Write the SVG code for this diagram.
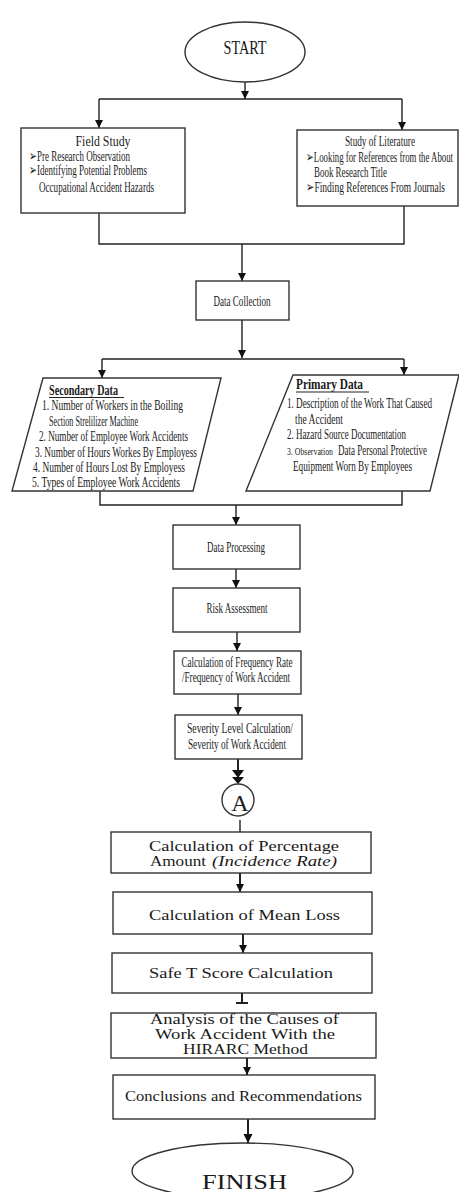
<svg xmlns="http://www.w3.org/2000/svg" width="459" height="1192" viewBox="0 0 459 1192">
<style>
.s{fill:#fff;stroke:#333;stroke-width:1.4}
.c{fill:none;stroke:#222;stroke-width:1.4}
.t{font-family:"Liberation Serif",serif;font-size:14.5px;fill:#1a1a1a}
.b{font-family:"Liberation Serif",serif;font-size:15px;fill:#1a1a1a}
.m{text-anchor:middle}
</style>
<defs>
<marker id="ah" viewBox="0 0 10 10" refX="10" refY="5" markerWidth="8" markerHeight="8" markerUnits="userSpaceOnUse" orient="auto">
<path d="M0,0 L10,5 L0,10 Z" fill="#111"/>
</marker>
<marker id="ah2" viewBox="0 0 10 10" refX="10" refY="5" markerWidth="9" markerHeight="11" markerUnits="userSpaceOnUse" orient="auto">
<path d="M0,0 L10,5 L0,10 Z" fill="#111"/>
</marker>
</defs>
<g id="connectors">
<path class="c" d="M245,82 V99" marker-end="url(#ah)"/>
<path class="c" d="M99,99 H402"/>
<path class="c" d="M99,99 V128" marker-end="url(#ah)"/>
<path class="c" d="M402,99 V130" marker-end="url(#ah)"/>
<path class="c" d="M99,213 V244 H404 V206"/>
<path class="c" d="M242,244 V281" marker-end="url(#ah)"/>
<path class="c" d="M242,320 V358" marker-end="url(#ah)"/>
<path class="c" d="M102,359 H404"/>
<path class="c" d="M102,359 V378" marker-end="url(#ah)"/>
<path class="c" d="M404,359 V375" marker-end="url(#ah)"/>
<path class="c" d="M100,491 V505 H402 V488"/>
<path class="c" d="M236,505 V525" marker-end="url(#ah)"/>
<path class="c" d="M236,569 V588" marker-end="url(#ah)"/>
<path class="c" d="M237,632 V651" marker-end="url(#ah)"/>
<path class="c" d="M238,694 V715" marker-end="url(#ah)"/>
<path class="c" d="M238,759 V770" style="stroke-width:2"/>
<path d="M232,770 L244,770 L238,778 Z M232,777 L244,777 L238,784 Z" fill="#111"/>
<path class="c" d="M240,820 V832"/>
<path class="c" d="M240,873 V892" marker-end="url(#ah)" style="stroke-width:2"/>
<path class="c" d="M243,934 V953" marker-end="url(#ah)" style="stroke-width:2"/>
<path class="c" d="M242,993 V1003 M236,1003 H248" style="stroke-width:2"/>
<path class="c" d="M247,1058 V1075" marker-end="url(#ah)" style="stroke-width:2"/>
<path class="c" d="M248,1119 V1143" marker-end="url(#ah2)" style="stroke-width:2"/>
</g>
<g id="start">
<ellipse class="s" cx="245" cy="52" rx="60" ry="30"/>
<text class="t m" x="245" y="54" style="font-size:19px" textLength="43" lengthAdjust="spacingAndGlyphs">START</text>
</g>
<g id="field-study">
<rect class="s" x="21" y="128" width="164" height="85"/>
<text class="t m" x="103" y="146" textLength="55" lengthAdjust="spacingAndGlyphs">Field Study</text>
<text class="t" x="29" y="161" textLength="101" lengthAdjust="spacingAndGlyphs">➢Pre Research Observation</text>
<text class="t" x="29" y="175" textLength="118" lengthAdjust="spacingAndGlyphs">➢Identifying Potential Problems</text>
<text class="t" x="39" y="192" textLength="115" lengthAdjust="spacingAndGlyphs">Occupational Accident Hazards</text>
</g>
<g id="literature">
<rect class="s" x="297" y="130" width="161" height="76"/>
<text class="t m" x="380" y="146" textLength="70" lengthAdjust="spacingAndGlyphs">Study of Literature</text>
<text class="t" x="306" y="162" textLength="147" lengthAdjust="spacingAndGlyphs">➢Looking for References from the About</text>
<text class="t" x="314" y="177" textLength="73" lengthAdjust="spacingAndGlyphs">Book Research Title</text>
<text class="t" x="306" y="192" textLength="139" lengthAdjust="spacingAndGlyphs">➢Finding References From Journals</text>
</g>
<g id="data-collection">
<rect class="s" x="196" y="281" width="93" height="39"/>
<text class="t m" x="242" y="306" textLength="57" lengthAdjust="spacingAndGlyphs">Data Collection</text>
</g>
<g id="secondary-data">
<path class="s" d="M43,378 L221,378 L193,491 L12,491 Z"/>
<text class="t" x="49" y="395" style="font-weight:bold" textLength="69" lengthAdjust="spacingAndGlyphs">Secondary Data</text>
<path class="c" d="M49,397.5 H124" style="stroke-width:1.2"/>
<text class="t" x="42" y="410" textLength="141" lengthAdjust="spacingAndGlyphs">1. Number of Workers in the Boiling</text>
<text class="t" x="49" y="426" textLength="89" lengthAdjust="spacingAndGlyphs">Section Strelilizer Machine</text>
<text class="t" x="39" y="441" textLength="149" lengthAdjust="spacingAndGlyphs">2. Number of Employee Work Accidents</text>
<text class="t" x="35" y="457" textLength="162" lengthAdjust="spacingAndGlyphs">3. Number of Hours Workes By Employess</text>
<text class="t" x="33" y="472" textLength="152" lengthAdjust="spacingAndGlyphs">4. Number of Hours Lost By Employess</text>
<text class="t" x="32" y="487" textLength="148" lengthAdjust="spacingAndGlyphs">5. Types of Employee Work Accidents</text>
</g>
<g id="primary-data">
<path class="s" d="M293,375 L459,375 L430,491 L246,491 Z"/>
<text class="t" x="296" y="389" style="font-weight:bold" textLength="67" lengthAdjust="spacingAndGlyphs">Primary  Data</text>
<path class="c" d="M296,392 H369" style="stroke-width:1.2"/>
<text class="t" x="287" y="408" textLength="145" lengthAdjust="spacingAndGlyphs">1. Description of the Work That Caused</text>
<text class="t" x="295" y="424" textLength="48" lengthAdjust="spacingAndGlyphs">the Accident</text>
<text class="t" x="287" y="439" textLength="119" lengthAdjust="spacingAndGlyphs">2. Hazard Source Documentation</text>
<text class="t" x="287" y="455" style="font-size:9.5px" textLength="46" lengthAdjust="spacingAndGlyphs">3. Observation</text>
<text class="t" x="338" y="455" textLength="89" lengthAdjust="spacingAndGlyphs">Data Personal Protective</text>
<text class="t" x="293" y="471" textLength="119" lengthAdjust="spacingAndGlyphs">Equipment Worn By Employees</text>
</g>
<g id="data-processing">
<rect class="s" x="173" y="525" width="127" height="44"/>
<text class="t m" x="236" y="552" textLength="58" lengthAdjust="spacingAndGlyphs">Data Processing</text>
</g>
<g id="risk-assessment">
<rect class="s" x="173" y="588" width="127" height="44"/>
<text class="t m" x="237" y="613" textLength="61" lengthAdjust="spacingAndGlyphs">Risk Assessment</text>
</g>
<g id="frequency-rate">
<rect class="s" x="174" y="651" width="127" height="43"/>
<text class="t m" x="237" y="667" textLength="111" lengthAdjust="spacingAndGlyphs">Calculation of Frequency Rate</text>
<text class="t m" x="236" y="682" textLength="108" lengthAdjust="spacingAndGlyphs">/Frequency of Work Accident</text>
</g>
<g id="severity">
<rect class="s" x="175" y="715" width="127" height="44"/>
<text class="t m" x="240" y="733" textLength="106" lengthAdjust="spacingAndGlyphs">Severity Level Calculation/</text>
<text class="t m" x="237" y="749" textLength="98" lengthAdjust="spacingAndGlyphs">Severity of Work Accident</text>
</g>
<g id="connector-a">
<circle class="s" cx="238" cy="800" r="16"/>
<text class="t m" x="240" y="811" style="font-size:24px">A</text>
</g>
<g id="percentage">
<rect class="s" x="111" y="832" width="260" height="41"/>
<text class="b m" x="244" y="851" textLength="190" lengthAdjust="spacingAndGlyphs">Calculation of Percentage</text>
<text class="b" x="150" y="866"><tspan textLength="56" lengthAdjust="spacingAndGlyphs">Amount</tspan><tspan x="212" style="font-style:italic" textLength="125" lengthAdjust="spacingAndGlyphs">(Incidence Rate)</tspan></text>
</g>
<g id="mean-loss">
<rect class="s" x="113" y="892" width="259" height="42"/>
<text class="b m" x="244.5" y="920" textLength="191" lengthAdjust="spacingAndGlyphs">Calculation of Mean Loss</text>
</g>
<g id="safe-t">
<rect class="s" x="112" y="953" width="260" height="40"/>
<text class="b m" x="241" y="978" textLength="184" lengthAdjust="spacingAndGlyphs">Safe T Score Calculation</text>
</g>
<g id="analysis">
<rect class="s" x="111" y="1013" width="265" height="45"/>
<text class="b m" x="244.5" y="1024" textLength="189" lengthAdjust="spacingAndGlyphs">Analysis of the Causes of</text>
<text class="b m" x="245" y="1039" textLength="180" lengthAdjust="spacingAndGlyphs">Work Accident With the</text>
<text class="b m" x="245.5" y="1054" textLength="125" lengthAdjust="spacingAndGlyphs">HIRARC Method</text>
</g>
<g id="conclusions">
<rect class="s" x="113" y="1075" width="262" height="44"/>
<text class="b m" x="243.5" y="1101" textLength="237" lengthAdjust="spacingAndGlyphs">Conclusions and Recommendations</text>
</g>
<g id="finish">
<ellipse class="s" cx="242.5" cy="1171" rx="110.5" ry="28"/>
<text class="b m" x="244.5" y="1189" style="font-size:22px" textLength="85" lengthAdjust="spacingAndGlyphs">FINISH</text>
</g>
</svg>
